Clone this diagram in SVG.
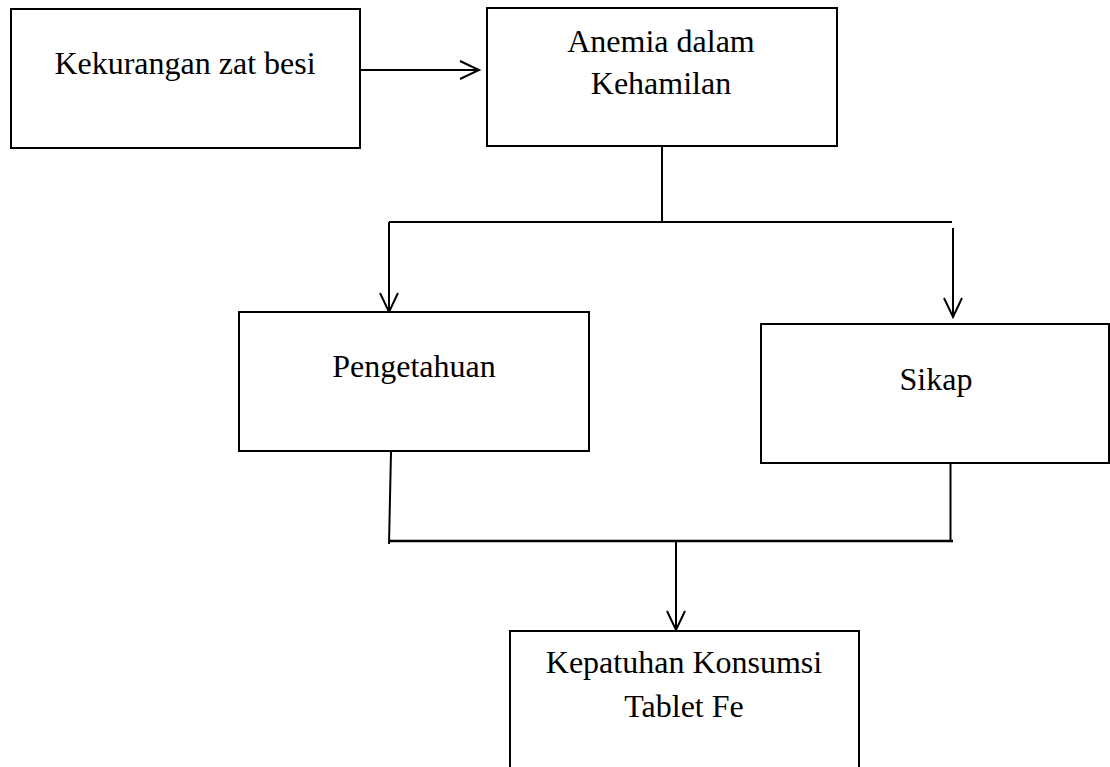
<svg xmlns="http://www.w3.org/2000/svg" width="1110" height="767" viewBox="0 0 1110 767">
<style>
.box{fill:#fff;stroke:#000;stroke-width:2}
.lbl{font-family:"Liberation Serif","Times New Roman",serif;font-size:32px;fill:#000;text-anchor:middle}
.ln{fill:none;stroke:#000;stroke-width:2}
</style>
<rect width="1110" height="767" fill="#fff"/>
<g id="connectors">
<path class="ln" d="M361,70 H479"/>
<path class="ln" d="M460,61 L479,70 L460,79"/>
<path class="ln" d="M662,147 V222"/>
<path class="ln" d="M389,222 H952"/>
<path class="ln" d="M389,222 V312"/>
<path class="ln" d="M380,293 L389,312 L398,293"/>
<path class="ln" d="M953,228 V317"/>
<path class="ln" d="M944,298 L953,317 L962,298"/>
<path class="ln" d="M391,452 L389,544"/>
<path class="ln" d="M950.5,464 V541"/>
<path class="ln" d="M389,541 H953" style="stroke-width:2.5"/>
<path class="ln" d="M676,541 V630"/>
<path class="ln" d="M667,611 L676,630 L685,611"/>
</g>
<g id="node-kekurangan">
<rect class="box" x="11" y="9" width="349" height="139"/>
<text class="lbl" x="185" y="74">Kekurangan zat besi</text>
</g>
<g id="node-anemia">
<rect class="box" x="487" y="8" width="350" height="138"/>
<text class="lbl" x="661" y="52">Anemia dalam</text>
<text class="lbl" x="661" y="94">Kehamilan</text>
</g>
<g id="node-pengetahuan">
<rect class="box" x="239" y="312" width="350" height="139"/>
<text class="lbl" x="414" y="377">Pengetahuan</text>
</g>
<g id="node-sikap">
<rect class="box" x="761" y="324" width="348" height="139"/>
<text class="lbl" x="936" y="390">Sikap</text>
</g>
<g id="node-kepatuhan">
<rect class="box" x="510" y="631" width="349" height="160"/>
<text class="lbl" x="684" y="673">Kepatuhan Konsumsi</text>
<text class="lbl" x="684" y="717">Tablet Fe</text>
</g>
</svg>
